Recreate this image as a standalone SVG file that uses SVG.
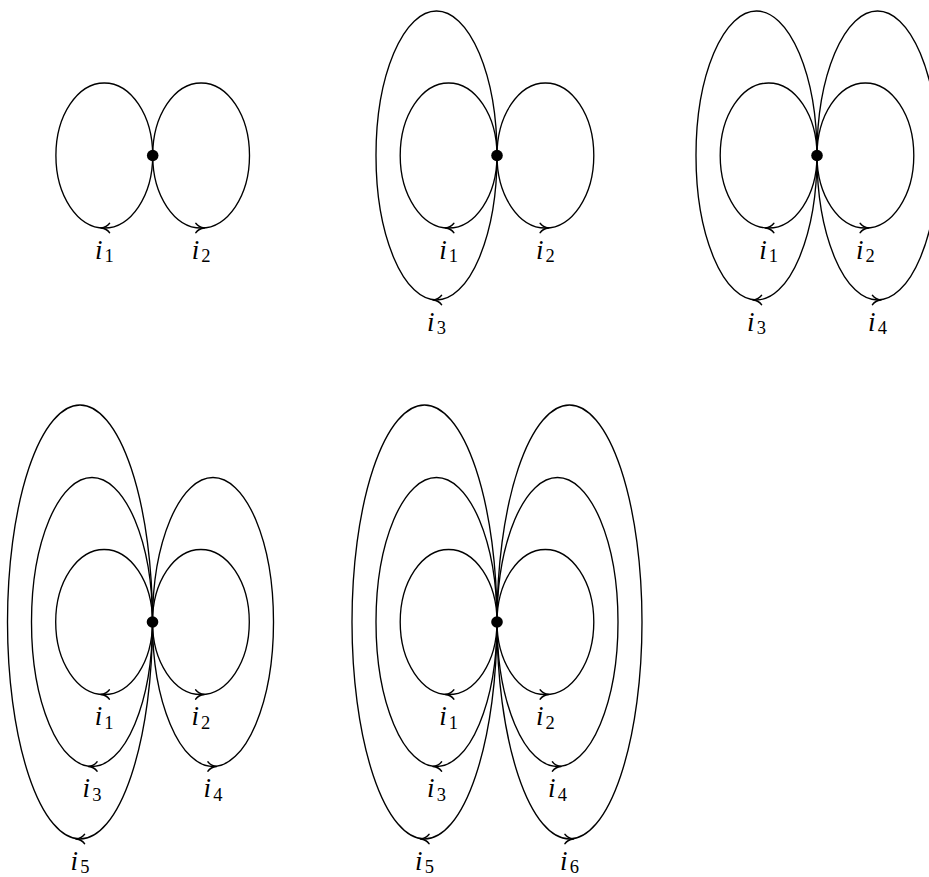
<svg xmlns="http://www.w3.org/2000/svg" xmlns:xlink="http://www.w3.org/1999/xlink" width="929" height="877" viewBox="0 0 929 877">
<style>
.loop{fill:none;stroke:#000;stroke-width:1.35}
.ah{fill:none;stroke:#000;stroke-width:1.6;stroke-linecap:round;stroke-linejoin:round}
.dot{fill:#000}
.i{font-style:italic}
</style>
<defs>
<path id="ahL" class="ah" d="M8.5,-4.6 C6.5,-1.7 2.8,-0.35 0,0 C2.8,0.35 6.5,1.7 8.5,4.6"/>
<path id="ahR" class="ah" d="M-8.5,-4.6 C-6.5,-1.7 -2.8,-0.35 0,0 C-2.8,0.35 -6.5,1.7 -8.5,4.6"/>
</defs>
<rect width="929" height="877" fill="#fff"/>
<g id="connectors">
  <!-- Diagram 1 -->
  <ellipse class="loop" cx="104.3" cy="155.5" rx="48.4" ry="72.5"/>
  <ellipse class="loop" cx="201.1" cy="155.5" rx="48.4" ry="72.5"/>
  <use xlink:href="#ahL" x="101" y="228"/>
  <use xlink:href="#ahR" x="204.4" y="228"/>
  <!-- Diagram 2 -->
  <ellipse class="loop" cx="448.6" cy="155.5" rx="48.4" ry="72.5"/>
  <ellipse class="loop" cx="545.4" cy="155.5" rx="48.4" ry="72.5"/>
  <ellipse class="loop" cx="436.5" cy="155.5" rx="60.5" ry="144.5"/>
  <use xlink:href="#ahL" x="445.3" y="228"/>
  <use xlink:href="#ahR" x="548.7" y="228"/>
  <use xlink:href="#ahL" x="433" y="300"/>
  <!-- Diagram 3 -->
  <ellipse class="loop" cx="768.6" cy="155.5" rx="48.4" ry="72.5"/>
  <ellipse class="loop" cx="865.4" cy="155.5" rx="48.4" ry="72.5"/>
  <ellipse class="loop" cx="756.5" cy="155.5" rx="60.5" ry="144.5"/>
  <ellipse class="loop" cx="877.5" cy="155.5" rx="60.5" ry="144.5"/>
  <use xlink:href="#ahL" x="765.3" y="228"/>
  <use xlink:href="#ahR" x="868.7" y="228"/>
  <use xlink:href="#ahL" x="753" y="300"/>
  <use xlink:href="#ahR" x="881" y="300"/>
  <!-- Diagram 4 -->
  <ellipse class="loop" cx="104.1" cy="622" rx="48.4" ry="72.5"/>
  <ellipse class="loop" cx="200.9" cy="622" rx="48.4" ry="72.5"/>
  <ellipse class="loop" cx="92" cy="622" rx="60.5" ry="144.5"/>
  <ellipse class="loop" cx="213" cy="622" rx="60.5" ry="144.5"/>
  <ellipse class="loop" cx="80" cy="622" rx="72.5" ry="217"/>
  <use xlink:href="#ahL" x="100.8" y="694.5"/>
  <use xlink:href="#ahR" x="204.2" y="694.5"/>
  <use xlink:href="#ahL" x="88.5" y="766.5"/>
  <use xlink:href="#ahR" x="216.5" y="766.5"/>
  <use xlink:href="#ahL" x="76" y="839"/>
  <!-- Diagram 5 -->
  <ellipse class="loop" cx="448.6" cy="622" rx="48.4" ry="72.5"/>
  <ellipse class="loop" cx="545.4" cy="622" rx="48.4" ry="72.5"/>
  <ellipse class="loop" cx="436.5" cy="622" rx="60.5" ry="144.5"/>
  <ellipse class="loop" cx="557.5" cy="622" rx="60.5" ry="144.5"/>
  <ellipse class="loop" cx="424.5" cy="622" rx="72.5" ry="217"/>
  <ellipse class="loop" cx="569.5" cy="622" rx="72.5" ry="217"/>
  <use xlink:href="#ahL" x="445.3" y="694.5"/>
  <use xlink:href="#ahR" x="548.7" y="694.5"/>
  <use xlink:href="#ahL" x="433" y="766.5"/>
  <use xlink:href="#ahR" x="561" y="766.5"/>
  <use xlink:href="#ahL" x="420.5" y="839"/>
  <use xlink:href="#ahR" x="573.5" y="839"/>
</g>
<g id="node-d1"><circle class="dot" cx="152.7" cy="155.5" r="5.8"/></g>
<g id="node-d2"><circle class="dot" cx="497" cy="155.5" r="5.8"/></g>
<g id="node-d3"><circle class="dot" cx="817" cy="155.5" r="5.8"/></g>
<g id="node-d4"><circle class="dot" cx="152.5" cy="622" r="5.8"/></g>
<g id="node-d5"><circle class="dot" cx="497" cy="622" r="5.8"/></g>
<g id="labels" font-family="'Liberation Serif', 'DejaVu Serif', serif" font-size="27" text-anchor="middle" fill="#000">
  <text x="104.3" y="258.5"><tspan class="i">i</tspan><tspan font-size="18.5" dx="2" dy="3.5">1</tspan></text>
  <text x="201.1" y="258.5"><tspan class="i">i</tspan><tspan font-size="18.5" dx="2" dy="3.5">2</tspan></text>
  <text x="448.6" y="258.5"><tspan class="i">i</tspan><tspan font-size="18.5" dx="2" dy="3.5">1</tspan></text>
  <text x="545.4" y="258.5"><tspan class="i">i</tspan><tspan font-size="18.5" dx="2" dy="3.5">2</tspan></text>
  <text x="436.5" y="330.5"><tspan class="i">i</tspan><tspan font-size="18.5" dx="2" dy="3.5">3</tspan></text>
  <text x="768.6" y="258.5"><tspan class="i">i</tspan><tspan font-size="18.5" dx="2" dy="3.5">1</tspan></text>
  <text x="865.4" y="258.5"><tspan class="i">i</tspan><tspan font-size="18.5" dx="2" dy="3.5">2</tspan></text>
  <text x="756.5" y="330.5"><tspan class="i">i</tspan><tspan font-size="18.5" dx="2" dy="3.5">3</tspan></text>
  <text x="877.5" y="330.5"><tspan class="i">i</tspan><tspan font-size="18.5" dx="2" dy="3.5">4</tspan></text>
  <text x="104.1" y="725"><tspan class="i">i</tspan><tspan font-size="18.5" dx="2" dy="3.5">1</tspan></text>
  <text x="200.9" y="725"><tspan class="i">i</tspan><tspan font-size="18.5" dx="2" dy="3.5">2</tspan></text>
  <text x="92" y="797"><tspan class="i">i</tspan><tspan font-size="18.5" dx="2" dy="3.5">3</tspan></text>
  <text x="213" y="797"><tspan class="i">i</tspan><tspan font-size="18.5" dx="2" dy="3.5">4</tspan></text>
  <text x="80" y="869.5"><tspan class="i">i</tspan><tspan font-size="18.5" dx="2" dy="3.5">5</tspan></text>
  <text x="448.6" y="725"><tspan class="i">i</tspan><tspan font-size="18.5" dx="2" dy="3.5">1</tspan></text>
  <text x="545.4" y="725"><tspan class="i">i</tspan><tspan font-size="18.5" dx="2" dy="3.5">2</tspan></text>
  <text x="436.5" y="797"><tspan class="i">i</tspan><tspan font-size="18.5" dx="2" dy="3.5">3</tspan></text>
  <text x="557.5" y="797"><tspan class="i">i</tspan><tspan font-size="18.5" dx="2" dy="3.5">4</tspan></text>
  <text x="424.5" y="869.5"><tspan class="i">i</tspan><tspan font-size="18.5" dx="2" dy="3.5">5</tspan></text>
  <text x="569.5" y="869.5"><tspan class="i">i</tspan><tspan font-size="18.5" dx="2" dy="3.5">6</tspan></text>
</g>
</svg>
